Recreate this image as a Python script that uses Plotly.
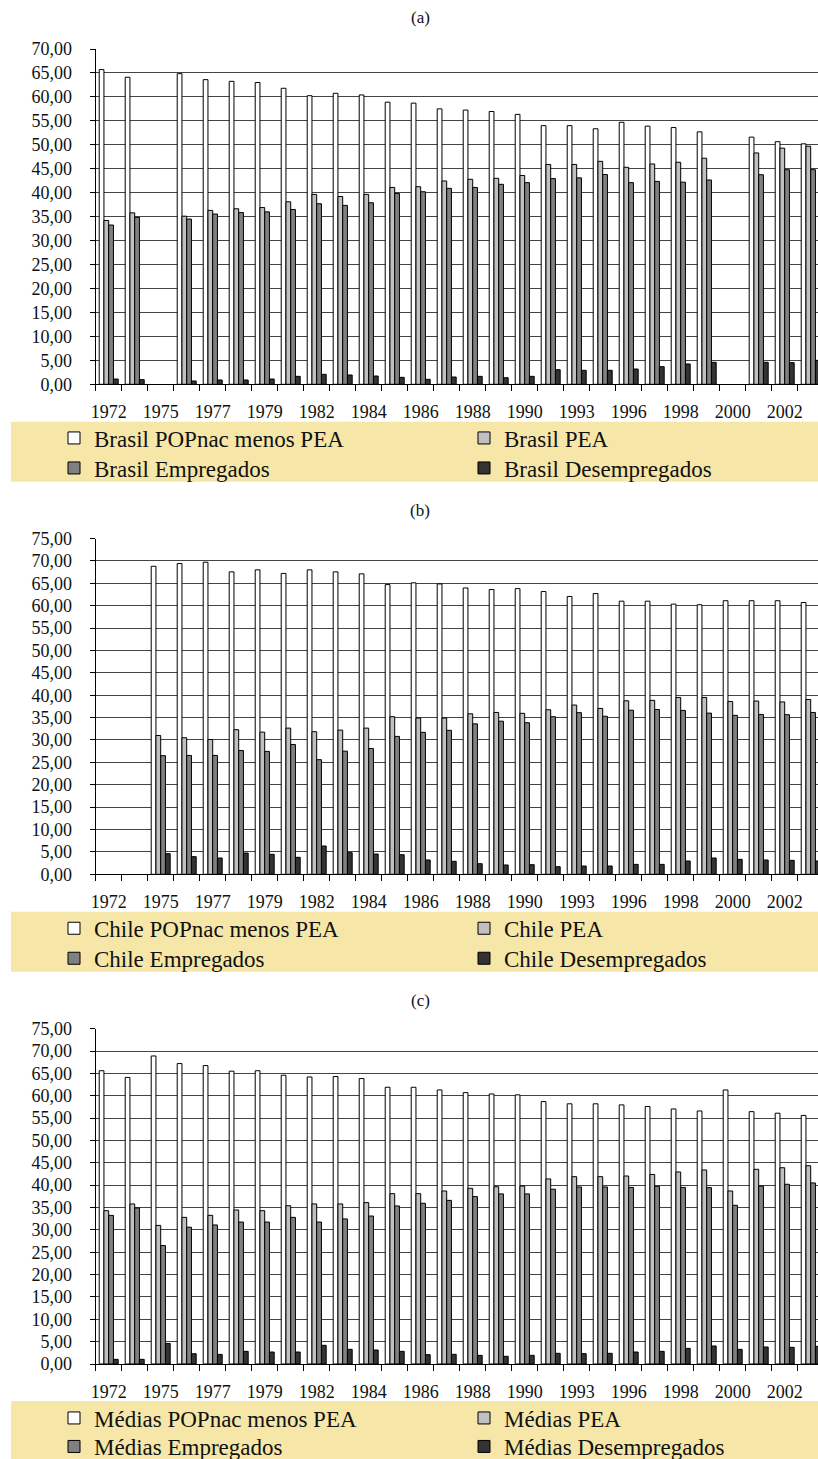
import plotly.graph_objects as go

# Survey years shown on the category axis (labels drawn on every other year)
years = ["1972", "1973", "1975", "1976", "1977", "1978", "1979", "1981", "1982",
         "1983", "1984", "1985", "1986", "1987", "1988", "1989", "1990", "1992",
         "1993", "1995", "1996", "1997", "1998", "1999", "2000", "2001", "2002",
         "2003"]

# (a) Brasil, % of the national population
brasil_pop_menos_pea = [65.7, 64.1, None, 64.85, 63.6, 63.25, 63.0, 61.8, 60.25, 60.75,
                        60.4, 58.9, 58.7, 57.5, 57.25, 56.95, 56.35, 54.0, 54.0, 53.35,
                        54.7, 53.9, 53.6, 52.7, None, 51.6, 50.65, 50.2]
brasil_pea = [34.2, 35.8, None, 35.1, 36.3, 36.65, 36.9, 38.1, 39.65, 39.2,
              39.65, 41.1, 41.25, 42.45, 42.8, 43.0, 43.6, 45.9, 45.9, 46.55,
              45.3, 46.0, 46.35, 47.2, None, 48.3, 49.3, 49.7]
brasil_empregados = [33.25, 34.85, None, 34.5, 35.55, 35.85, 36.0, 36.5, 37.7, 37.35,
                     37.9, 39.85, 40.2, 40.9, 41.1, 41.75, 42.1, 42.95, 43.1, 43.8,
                     42.1, 42.35, 42.2, 42.65, None, 43.75, 44.8, 44.8]
brasil_desempregados = [1.1, 0.97, None, 0.69, 0.9, 0.9, 1.1, 1.66, 2.08, 1.94,
                        1.73, 1.45, 1.04, 1.52, 1.66, 1.38, 1.66, 3.05, 2.92, 2.92,
                        3.19, 3.68, 4.24, 4.59, None, 4.59, 4.52, 5.0]

# (b) Chile
chile_pop_menos_pea = [None, None, 68.8, 69.4, 69.7, 67.55, 68.0, 67.2, 68.0, 67.55,
                       67.1, 64.7, 65.1, 64.85, 63.95, 63.6, 63.8, 63.15, 62.05, 62.7,
                       61.0, 61.0, 60.35, 60.2, 61.1, 61.1, 61.1, 60.7]
chile_pea = [None, None, 31.0, 30.5, 30.1, 32.3, 31.75, 32.65, 31.85, 32.2,
             32.65, 35.2, 34.9, 34.9, 35.85, 36.15, 35.95, 36.75, 37.8, 37.05,
             38.75, 38.85, 39.5, 39.5, 38.6, 38.7, 38.5, 39.05]
chile_empregados = [None, None, 26.5, 26.55, 26.55, 27.65, 27.45, 29.0, 25.6, 27.5,
                    28.1, 30.8, 31.7, 32.15, 33.6, 34.2, 33.85, 35.2, 36.1, 35.3,
                    36.65, 36.8, 36.6, 36.0, 35.5, 35.7, 35.65, 36.15]
chile_desempregados = [None, None, 4.6, 3.94, 3.64, 4.75, 4.46, 3.79, 6.32, 4.83,
                       4.53, 4.38, 3.2, 2.9, 2.37, 2.08, 2.15, 1.7, 1.85, 1.85,
                       2.22, 2.22, 2.97, 3.64, 3.34, 3.2, 3.12, 2.97]

# (c) Médias
medias_pop_menos_pea = [65.6, 64.1, 68.9, 67.2, 66.75, 65.5, 65.6, 64.6, 64.2, 64.3,
                        63.85, 61.9, 61.9, 61.3, 60.7, 60.4, 60.2, 58.7, 58.2, 58.2,
                        57.95, 57.6, 57.05, 56.6, 61.3, 56.45, 56.1, 55.6]
medias_pea = [34.3, 35.8, 31.0, 32.8, 33.25, 34.45, 34.3, 35.4, 35.8, 35.8,
              36.1, 38.1, 38.1, 38.7, 39.3, 39.65, 39.8, 41.4, 41.9, 41.9,
              42.05, 42.4, 42.95, 43.4, 38.7, 43.55, 43.9, 44.35]
medias_empregados = [33.25, 34.9, 26.5, 30.6, 31.1, 31.75, 31.75, 32.8, 31.75, 32.45,
                     33.1, 35.35, 35.95, 36.6, 37.45, 38.05, 38.05, 39.1, 39.6, 39.6,
                     39.5, 39.75, 39.5, 39.45, 35.5, 39.8, 40.2, 40.5]
medias_desempregados = [1.04, 1.04, 4.6, 2.3, 2.15, 2.83, 2.68, 2.68, 4.18, 3.28,
                        3.13, 2.83, 2.09, 2.16, 1.94, 1.72, 1.94, 2.39, 2.31, 2.39,
                        2.68, 2.83, 3.5, 4.03, 3.28, 3.8, 3.73, 3.95]

series_suffixes = ["POPnac menos PEA", "PEA", "Empregados", "Desempregados"]
bar_colors = ["#FFFFFF", "#C0C0C0", "#808080", "#333333"]
# legend slot of each series: (column, row) inside the 2x2 legend band
legend_slot = [(0, 0), (1, 0), (0, 1), (1, 1)]

panels = [
    ("Brasil", "(a)", [brasil_pop_menos_pea, brasil_pea, brasil_empregados, brasil_desempregados], 70),
    ("Chile", "(b)", [chile_pop_menos_pea, chile_pea, chile_empregados, chile_desempregados], 75),
    ("Médias", "(c)", [medias_pop_menos_pea, medias_pea, medias_empregados, medias_desempregados], 75),
]

W, H = 818, 1459
FONT = "Liberation Serif, Times New Roman, serif"
TXT = "#111111"

# pixel geometry of each panel:
# (plot top, plot bottom, title y, legend band top, legend band bottom, legend row centres)
geom = [
    (49.0, 384.3, 18.0, 421.7, 481.7, (438.0, 468.0)),
    (538.5, 874.3, 510.0, 911.7, 971.7, (928.3, 958.3)),
    (1028.7, 1364.0, 1000.0, 1401.0, 1462.0, (1418.0, 1446.5)),
]

x_left = 95.7
legend_col_x = [54.0, 464.0]
fig = go.Figure()
shapes, annotations = [], []
layout_extra = {}
legend_count = 0

for i, (name, tag, data, ymax) in enumerate(panels):
    n = "" if i == 0 else str(i + 1)
    top, bottom, ty, lb_top, lb_bot, rows = geom[i]
    for vals, suffix, col, (lc, lr) in zip(data, series_suffixes, bar_colors, legend_slot):
        legend_count += 1
        lid = "legend" if legend_count == 1 else f"legend{legend_count}"
        fig.add_trace(go.Bar(
            x=years, y=vals, name=f"{name} {suffix}",
            marker=dict(color=col, line=dict(color="#000000", width=1)),
            xaxis="x" + n, yaxis="y" + n, legend=lid,
            hoverinfo="x+y+name",
        ))
        layout_extra[lid] = dict(
            orientation="v", x=legend_col_x[lc] / W, y=1 - rows[lr] / H,
            xanchor="left", yanchor="middle", bgcolor="rgba(0,0,0,0)",
            font=dict(family=FONT, size=23, color=TXT),
            itemclick=False, itemdoubleclick=False,
        )

    ydom = [1 - bottom / H, 1 - top / H]
    ticktext = [y if k % 2 == 0 else "" for k, y in enumerate(years)]
    layout_extra["xaxis" + n] = dict(
        domain=[x_left / W, 1], anchor="y" + n, type="category",
        range=[-0.5, (W - x_left) / 26.0 - 0.5],
        tickmode="array", tickvals=years, ticktext=ticktext, tickangle=0,
        tickson="boundaries", ticks="outside", ticklen=6, tickcolor="#000000",
        showline=True, linecolor="#000000", linewidth=1,
        showgrid=False, zeroline=False, automargin=False,
        tickfont=dict(family=FONT, size=18, color=TXT),
        ticklabelstandoff=11, fixedrange=True,
    )
    layout_extra["yaxis" + n] = dict(
        domain=ydom, anchor="x" + n, range=[0, ymax],
        tickmode="linear", tick0=0, dtick=5, tickformat=".2f",
        ticks="outside", ticklen=5, tickcolor="#000000",
        showline=True, linecolor="#000000", linewidth=1,
        showgrid=True, gridcolor="#444444", gridwidth=1, zeroline=False,
        automargin=False,
        tickfont=dict(family=FONT, size=18, color=TXT),
        ticklabelstandoff=14, fixedrange=True,
    )

    # beige legend band
    shapes.append(dict(type="rect", xref="paper", yref="paper",
                       x0=11 / W, x1=1, y0=1 - lb_bot / H, y1=1 - lb_top / H,
                       fillcolor="#F6E7A8", line=dict(width=0), layer="below"))
    annotations.append(dict(text=tag, xref="paper", yref="paper",
                            x=420 / W, y=1 - ty / H, xanchor="center", yanchor="middle",
                            showarrow=False, font=dict(family=FONT, size=17, color=TXT)))

fig.update_layout(
    width=W, height=H, margin=dict(l=0, r=0, t=0, b=0, autoexpand=False),
    paper_bgcolor="#FFFFFF", plot_bgcolor="#FFFFFF",
    barmode="group", bargap=0.27, bargroupgap=0.0,
    separators=",.", showlegend=True,
    font=dict(family=FONT, color=TXT),
    shapes=shapes, annotations=annotations,
    **layout_extra,
)

fig.write_html("out.html")
